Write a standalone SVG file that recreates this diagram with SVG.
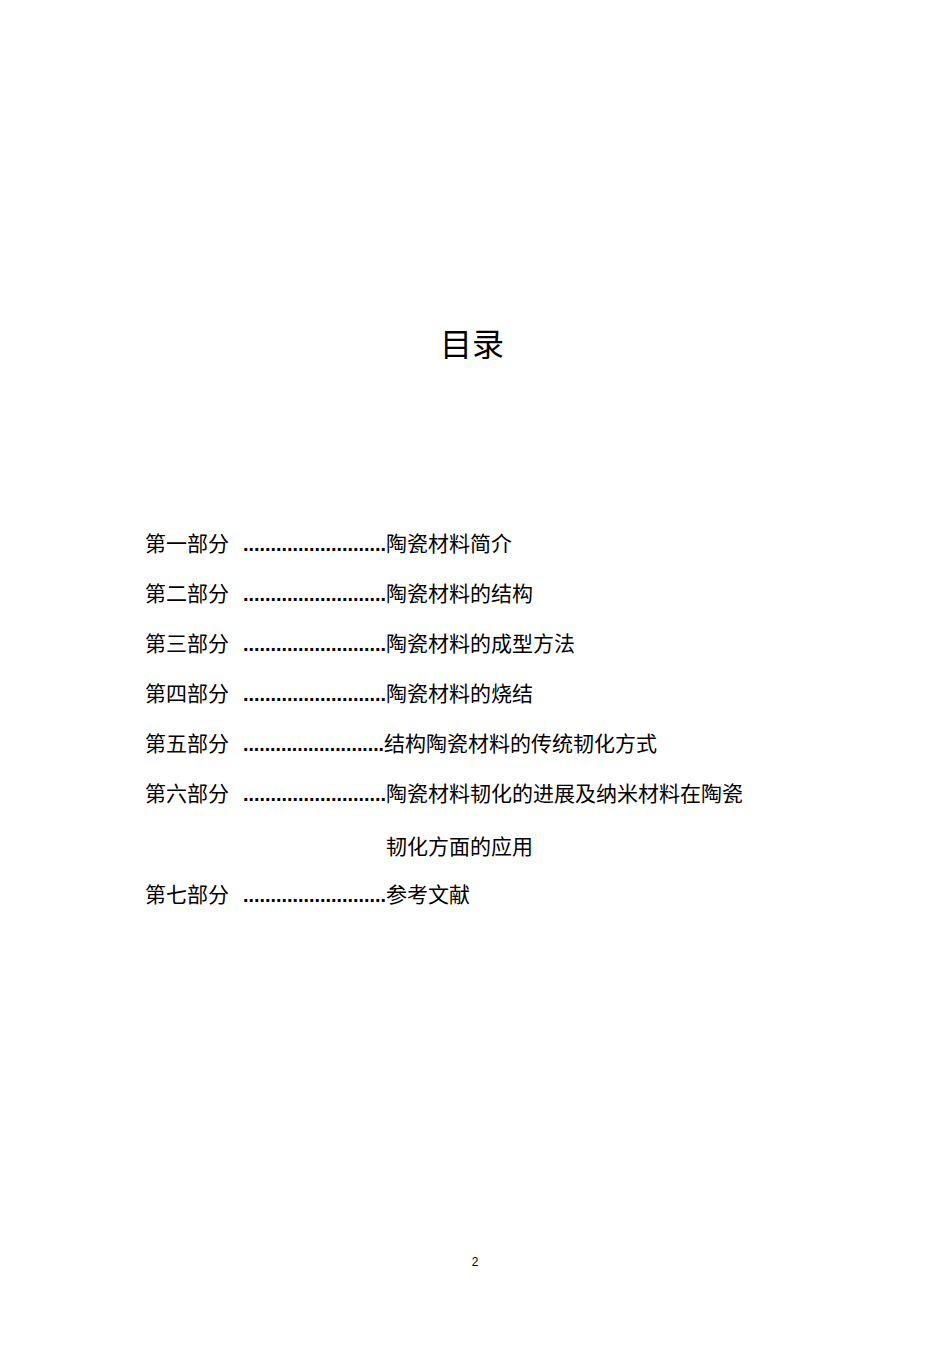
<svg xmlns="http://www.w3.org/2000/svg" width="950" height="1347" viewBox="0 0 950 1347">
<style>
.t{font-family:"Liberation Serif","Noto Sans CJK SC",serif;font-size:21px;fill:#000}
.d{font-family:"Liberation Sans",sans-serif;font-size:20px;font-weight:bold;fill:#000}
</style>
<rect width="950" height="1347" fill="#fff"/>
<text x="472" y="356" text-anchor="middle" style="font-family:'Noto Sans CJK SC',sans-serif;font-size:32px">目录</text>
<g id="toc">
<g id="e1"><text class="t" x="145" y="551">第一部分</text><text class="d" x="243" y="551" textLength="143" lengthAdjust="spacingAndGlyphs">..........................</text><text class="t" x="386" y="551">陶瓷材料简介</text></g>
<g id="e2"><text class="t" x="145" y="601">第二部分</text><text class="d" x="243" y="601" textLength="143" lengthAdjust="spacingAndGlyphs">..........................</text><text class="t" x="386" y="601">陶瓷材料的结构</text></g>
<g id="e3"><text class="t" x="145" y="651">第三部分</text><text class="d" x="243" y="651" textLength="143" lengthAdjust="spacingAndGlyphs">..........................</text><text class="t" x="386" y="651">陶瓷材料的成型方法</text></g>
<g id="e4"><text class="t" x="145" y="701">第四部分</text><text class="d" x="243" y="701" textLength="143" lengthAdjust="spacingAndGlyphs">..........................</text><text class="t" x="386" y="701">陶瓷材料的烧结</text></g>
<g id="e5"><text class="t" x="145" y="751">第五部分</text><text class="d" x="243" y="751" textLength="141" lengthAdjust="spacingAndGlyphs">..........................</text><text class="t" x="384" y="751">结构陶瓷材料的传统韧化方式</text></g>
<g id="e6"><text class="t" x="145" y="801">第六部分</text><text class="d" x="243" y="801" textLength="143" lengthAdjust="spacingAndGlyphs">..........................</text><text class="t" x="386" y="801">陶瓷材料韧化的进展及纳米材料在陶瓷</text><text class="t" x="386" y="854">韧化方面的应用</text></g>
<g id="e7"><text class="t" x="145" y="902">第七部分</text><text class="d" x="243" y="902" textLength="143" lengthAdjust="spacingAndGlyphs">..........................</text><text class="t" x="386" y="902">参考文献</text></g>
</g>
<text x="475" y="1266" text-anchor="middle" style="font-family:'Liberation Sans',sans-serif;font-size:12px">2</text>
</svg>
